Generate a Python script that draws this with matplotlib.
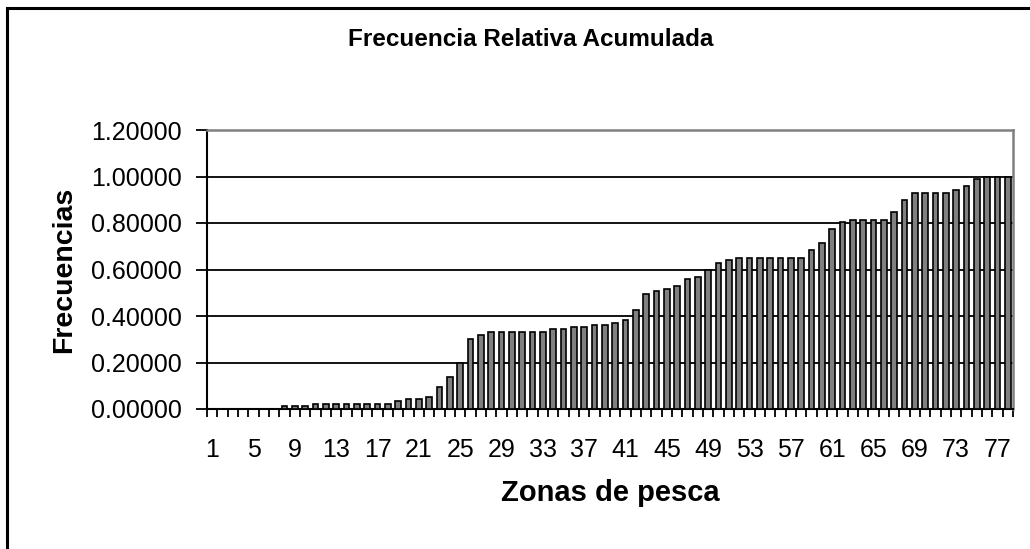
import matplotlib
matplotlib.use("Agg")
import matplotlib.pyplot as plt
import numpy as np
from matplotlib.patches import Rectangle
from matplotlib.ticker import FixedLocator, FormatStrFormatter

plt.rcParams["font.family"] = ["Liberation Sans", "DejaVu Sans"]

# zonas de pesca 1..78 y su frecuencia relativa acumulada
zonas = list(range(1, 79))
frecuencias = [
    0.000, 0.000, 0.000, 0.000, 0.000, 0.000, 0.000, 0.013, 0.013, 0.013,
    0.021, 0.021, 0.021, 0.021, 0.021, 0.021, 0.021, 0.021, 0.034, 0.044,
    0.044, 0.053, 0.094, 0.136, 0.196, 0.300, 0.320, 0.330, 0.330, 0.330,
    0.330, 0.330, 0.330, 0.342, 0.342, 0.352, 0.352, 0.362, 0.362, 0.372,
    0.383, 0.425, 0.496, 0.506, 0.516, 0.527, 0.558, 0.568, 0.600, 0.630,
    0.641, 0.651, 0.651, 0.651, 0.651, 0.651, 0.651, 0.651, 0.682, 0.712,
    0.774, 0.805, 0.815, 0.815, 0.815, 0.815, 0.847, 0.898, 0.930, 0.930,
    0.930, 0.930, 0.940, 0.961, 0.991, 1.000, 1.000, 1.000,
]
etiquetas_x = [str(z) for z in zonas[::4]]
yticks = [0.0, 0.2, 0.4, 0.6, 0.8, 1.0, 1.2]

fig = plt.figure(figsize=(10.3, 5.49), dpi=100)
ax = fig.add_axes([207 / 1030, 1 - 409 / 549, (1013 - 207) / 1030, (409 - 130) / 549])

ax.bar(zonas, frecuencias, width=0.55, color="#808080", edgecolor="black",
       linewidth=1.2, zorder=3)

ax.set_xlim(0.5, len(zonas) + 0.5)
ax.set_ylim(0, 1.2)
ax.set_yticks(yticks)
ax.yaxis.set_major_formatter(FormatStrFormatter("%.5f"))
ax.yaxis.grid(True, color="black", linewidth=1.3)
ax.set_axisbelow(True)

ax.xaxis.set_major_locator(FixedLocator(zonas[::4]))
ax.set_xticklabels(etiquetas_x)
ax.xaxis.set_minor_locator(FixedLocator(np.arange(0.5, len(zonas) + 1, 1)))
ax.tick_params(axis="x", which="major", length=0, pad=21, labelsize=18)
ax.tick_params(axis="x", which="minor", length=6, width=1.3, direction="out")
ax.tick_params(axis="y", length=8, width=1.3, direction="out", pad=10, labelsize=18)

for s in ["left", "bottom"]:
    ax.spines[s].set_color("black")
    ax.spines[s].set_linewidth(1.5)
for s in ["top", "right"]:
    ax.spines[s].set_color("#808080")
    ax.spines[s].set_linewidth(1.8)

ax.set_xlabel("Zonas de pesca", fontsize=21, fontweight="bold", labelpad=12)
ax.set_ylabel("Frecuencias", fontsize=20.5, fontweight="bold", labelpad=10)
fig.text(0.515, 1 - 39 / 549, "Frecuencia Relativa Acumulada", ha="center",
         va="center", fontsize=17.5, fontweight="bold")

# marco exterior del grafico
fig.patches.append(Rectangle((7 / 1030, -0.1), 1.2, 1.1 - 8 / 549,
                             transform=fig.transFigure, fill=False,
                             edgecolor="black", linewidth=2.2))

fig.savefig("out.png", dpi=100)
